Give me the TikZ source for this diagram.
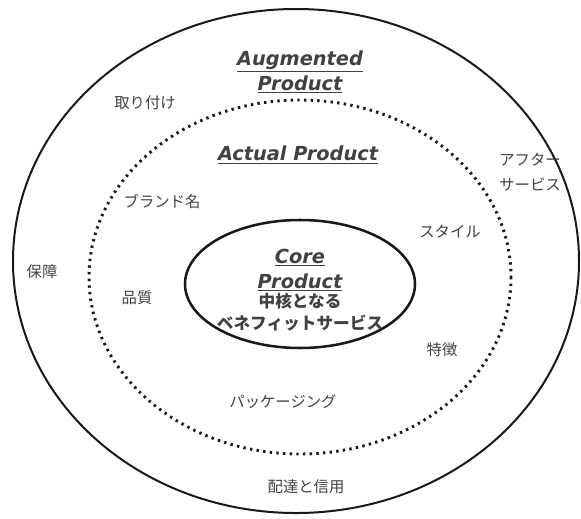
\documentclass[tikz,border=0pt]{standalone}
\usepackage{fontspec}
\setmainfont{DejaVu Sans}
\newfontfamily\jpfont{Noto Sans CJK JP}
\usetikzlibrary{positioning}
\definecolor{ringDark}{RGB}{25,25,25}
\definecolor{labelGray}{RGB}{65,65,65}

\begin{document}
\begin{tikzpicture}[x=0.75pt, y=-0.75pt,
ring/.style={draw=ringDark, line width=1.5pt},
dotring/.style={draw=ringDark, line width=2.2pt, dash pattern=on 1.8pt off 3.2pt},
title/.style={font=\fontsize{14.5}{19}\selectfont\bfseries\itshape,
text=labelGray, align=center, inner sep=0pt},
item/.style={font=\jpfont\fontsize{11.5}{18.5}\selectfont, text=labelGray,
align=center, inner sep=0pt}]
\useasboundingbox (0,0) rectangle (581,518);
% the three product levels
\draw[ring] (296,261) ellipse [x radius=283, y radius=252];
\draw[dotring] (300,277) ellipse [x radius=211, y radius=177];
\draw[ring, line width=1.9pt] (300,284) ellipse [x radius=115, y radius=64];
% headings
\node[title] (augmented) at (300,72) {\underline{Augmented}\\\underline{Product}};
\node[title] (actual) at (298,155) {\underline{Actual\ Product}};
\node[title] (core) at (300,270) {\underline{Core}\\\underline{Product}};
\node[item, font=\jpfont\bfseries\fontsize{12.5}{16.5}\selectfont, below=1pt of core]
    (benefit) {中核となる\\ベネフィットサービス};
% actual product items
\node[item] (brand) at (162,202) {ブランド名};
\node[item] (quality) at (137,298) {品質};
\node[item] (style) at (450,232) {スタイル};
\node[item] (feature) at (442,350) {特徴};
\node[item] (package) at (283,402) {パッケージング};
% augmented product items
\node[item] (install) at (145,103) {取り付け};
\node[item] (warranty) at (42,272) {保障};
\node[item] (after) at (530,172) {アフター\\サービス};
\node[item] (delivery) at (306,487) {配達と信用};
\end{tikzpicture}
\end{document}
